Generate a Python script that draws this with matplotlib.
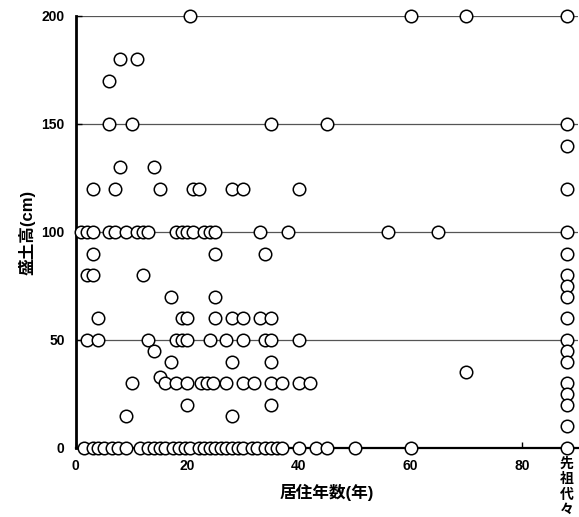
import matplotlib
matplotlib.use('Agg')
import matplotlib.pyplot as plt

plt.rcParams['font.family'] = ['Liberation Sans', 'Noto Sans CJK JP', 'DejaVu Sans']

# x position used for the "先祖代々" (ancestral) group
SENZO_X = 88

# years of residence observed at each fill height (cm)
yrs_200 = [20.5, 60, 70]
yrs_180 = [8, 11]
yrs_170 = [6]
yrs_150 = [6, 10, 35, 45]
yrs_130 = [8, 14]
yrs_120 = [3, 7, 15, 21, 22, 28, 30, 40]
yrs_100 = [1, 2, 3, 6, 7, 9, 11, 12, 13, 18, 19, 20, 21, 23, 24, 25, 33, 38, 56, 65]
yrs_90 = [3, 25, 34]
yrs_80 = [2, 3, 12]
yrs_70 = [17, 25]
yrs_60 = [4, 19, 20, 25, 28, 30, 33, 35]
yrs_50 = [2, 4, 13, 18, 19, 20, 24, 27, 30, 34, 35, 40]
yrs_45 = [14]
yrs_40 = [17, 28, 35]
yrs_35 = [70]
yrs_33 = [15]
yrs_30 = [10, 16, 18, 20, 22.5, 23.5, 24.5, 27, 30, 32, 35, 37, 40, 42]
yrs_20 = [20, 35]
yrs_15 = [9, 28]
yrs_0 = [1.5, 3, 4, 5, 6.5, 7.5, 9, 11.5, 13, 14, 15, 16, 17.5, 18.5, 19.5, 20.5,
         22, 23, 24, 25, 26, 27, 28, 29, 30, 31.5, 32.5, 34, 35, 36, 37,
         40, 43, 45, 50, 60]

levels = [200, 180, 170, 150, 130, 120, 100, 90, 80, 70, 60, 50, 45, 40, 35, 33, 30, 20, 15, 0]
groups = [yrs_200, yrs_180, yrs_170, yrs_150, yrs_130, yrs_120, yrs_100, yrs_90, yrs_80,
          yrs_70, yrs_60, yrs_50, yrs_45, yrs_40, yrs_35, yrs_33, yrs_30, yrs_20, yrs_15, yrs_0]

# fill heights of the ancestral households
senzo_heights = [200, 150, 140, 120, 100, 90, 80, 75, 70, 60, 50, 45, 40, 30, 25, 20, 10, 0]

xs, ys = [], []
for h, yrs in zip(levels, groups):
    xs += yrs
    ys += [h] * len(yrs)
xs += [SENZO_X] * len(senzo_heights)
ys += senzo_heights

fig = plt.figure(figsize=(5.79, 5.17), dpi=100)
ax = fig.add_axes([0.131, 0.1335, 0.867, 0.8356])

ax.set_xlim(0, 90)
ax.set_ylim(0, 200)

ax.set_yticks([0, 50, 100, 150, 200])
ax.set_xticks([0, 20, 40, 60, 80])
ax.yaxis.grid(True, color='#555555', linewidth=0.9)
ax.set_axisbelow(True)

for s in ('top', 'right'):
    ax.spines[s].set_visible(False)
ax.spines['left'].set_linewidth(2.0)
ax.spines['bottom'].set_linewidth(1.6)

ax.tick_params(direction='in', length=4, width=1, labelsize=10, pad=8)
for lab in ax.get_xticklabels() + ax.get_yticklabels():
    lab.set_fontweight('bold')

ax.plot(xs, ys, linestyle='none', marker='o', markersize=9,
        markerfacecolor='white', markeredgecolor='black', markeredgewidth=1.1,
        clip_on=False, zorder=3)

ax.annotate('先\n祖\n代\n々', xy=(SENZO_X, 0), xycoords='data',
            xytext=(0, -6), textcoords='offset points',
            ha='center', va='top', fontsize=10, fontweight='bold',
            linespacing=1.15, annotation_clip=False)

ax.set_xlabel('居住年数(年)', fontsize=12, fontweight='bold', labelpad=8)
ax.set_ylabel('盛土高(cm)', fontsize=12, fontweight='bold', labelpad=4)

fig.savefig('out.png', dpi=100)
